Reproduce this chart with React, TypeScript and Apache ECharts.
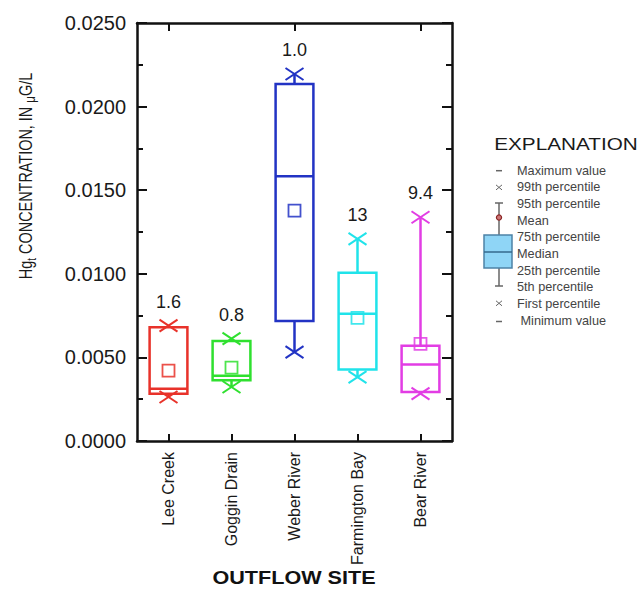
import React, { useEffect, useRef } from "react";
import * as echarts from "echarts";

// ---- data ----
const categories = ["Lee Creek", "Goggin Drain", "Weber River", "Farmington Bay", "Bear River"];
const firstPct = [0.00263, 0.00323, 0.00532, 0.00382, 0.00283];
const q1 = [0.00283, 0.00363, 0.00717, 0.00427, 0.00293];
const median = [0.00313, 0.0039, 0.01583, 0.00761, 0.00458];
const q3 = [0.0068, 0.00598, 0.02135, 0.01006, 0.0057];
const pct99 = [0.0069, 0.00612, 0.02195, 0.01209, 0.01338];
const mean = [0.00421, 0.00439, 0.01378, 0.00736, 0.00581];
const sampleLabels = ["1.6", "0.8", "1.0", "13", "9.4"];
const siteColors = ["#e8322a", "#2fe02f", "#2233c4", "#20e3ea", "#e23de4"];
const legendLabels = [
  "Maximum value",
  "99th percentile",
  "95th percentile",
  "Mean",
  "75th percentile",
  "Median",
  "25th percentile",
  "5th percentile",
  "First percentile",
  " Minimum value",
];

const FONT = "'Liberation Sans', Arial, Helvetica, sans-serif";

export default function App() {
  const ref = useRef<HTMLDivElement>(null);
  useEffect(() => {
    if (!ref.current) return;
    const chart = echarts.init(ref.current, null, { renderer: "svg" });

    const boxData = categories.map((_, i) => [i, firstPct[i], q1[i], median[i], q3[i], pct99[i], mean[i]]);

    const renderItem = (params: any, api: any) => {
      const i = api.value(0);
      const color = siteColors[params.dataIndex];
      const cx = api.coord([i, 0])[0];
      const y = (v: number) => api.coord([i, v])[1];
      const bw = api.size([1, 0])[0] * 0.6;
      const vP1 = api.value(1), vQ1 = api.value(2), vMed = api.value(3), vQ3 = api.value(4), vP99 = api.value(5), vMean = api.value(6);
      const lineStyle = { stroke: color, lineWidth: 2.5, fill: null };
      const children: any[] = [];
      if (vP99 > vQ3) {
        children.push({ type: "line", shape: { x1: cx, y1: y(vQ3), x2: cx, y2: y(vP99) }, style: lineStyle });
      }
      if (vP1 < vQ1) {
        children.push({ type: "line", shape: { x1: cx, y1: y(vQ1), x2: cx, y2: y(vP1) }, style: lineStyle });
      }
      children.push({
        type: "rect",
        shape: { x: cx - bw / 2, y: y(vQ3), width: bw, height: y(vQ1) - y(vQ3) },
        style: { stroke: color, lineWidth: 2.5, fill: "none" },
      });
      children.push({
        type: "line",
        shape: { x1: cx - bw / 2, y1: y(vMed), x2: cx + bw / 2, y2: y(vMed) },
        style: lineStyle,
      });
      const ms = 12;
      children.push({
        type: "rect",
        shape: { x: cx - ms / 2, y: y(vMean) - ms / 2, width: ms, height: ms },
        style: { stroke: color, lineWidth: 1.8, fill: "none", opacity: 0.85 },
      });
      const cross = (v: number) => {
        const yy = y(v);
        children.push({ type: "line", shape: { x1: cx - 9, y1: yy - 6, x2: cx + 9, y2: yy + 6 }, style: { stroke: color, lineWidth: 2 } });
        children.push({ type: "line", shape: { x1: cx - 9, y1: yy + 6, x2: cx + 9, y2: yy - 6 }, style: { stroke: color, lineWidth: 2 } });
      };
      cross(vP1);
      cross(vP99);
      children.push({
        type: "text",
        style: {
          text: sampleLabels[params.dataIndex],
          x: cx,
          y: y(vP99) - 24,
          align: "center",
          verticalAlign: "middle",
          fontSize: 18,
          fontFamily: FONT,
          fill: "#1a1a1a",
        },
      });
      return { type: "group", children };
    };

    // legend (explanation) graphics
    const lx = 499;
    const ly0 = 170.7;
    const dy = 16.7;
    const legendGraphics: any[] = [];
    legendLabels.forEach((t, k) => {
      legendGraphics.push({
        type: "text",
        x: 517,
        y: ly0 + k * dy,
        scaleX: 1.06,
        style: { text: t, fontSize: 12, fontFamily: FONT, fill: "#444", align: "left", verticalAlign: "middle" },
      });
    });
    const g = "#666";
    legendGraphics.push(
      { type: "line", shape: { x1: lx - 3, y1: ly0, x2: lx + 3, y2: ly0 }, style: { stroke: g, lineWidth: 1.5 } },
      { type: "line", shape: { x1: lx - 3, y1: ly0 + dy - 2.5, x2: lx + 3, y2: ly0 + dy + 2.5 }, style: { stroke: g, lineWidth: 1 } },
      { type: "line", shape: { x1: lx - 3, y1: ly0 + dy + 2.5, x2: lx + 3, y2: ly0 + dy - 2.5 }, style: { stroke: g, lineWidth: 1 } },
      { type: "line", shape: { x1: lx, y1: 203, x2: lx, y2: 235 }, style: { stroke: g, lineWidth: 1.5 } },
      { type: "line", shape: { x1: lx - 4, y1: 203, x2: lx + 4, y2: 203 }, style: { stroke: g, lineWidth: 1.5 } },
      { type: "line", shape: { x1: lx, y1: 268, x2: lx, y2: 286 }, style: { stroke: g, lineWidth: 1.5 } },
      { type: "line", shape: { x1: lx - 4, y1: 286, x2: lx + 4, y2: 286 }, style: { stroke: g, lineWidth: 1.5 } },
      { type: "rect", shape: { x: 484, y: 235, width: 28, height: 33 }, style: { fill: "#8fd5f6", stroke: "#4d82a6", lineWidth: 1.5 } },
      { type: "line", shape: { x1: 484, y1: 252, x2: 512, y2: 252 }, style: { stroke: "#35698c", lineWidth: 1.5 } },
      { type: "circle", shape: { cx: lx, cy: 217.5, r: 2.6 }, style: { fill: "#c77", stroke: "#8b2525", lineWidth: 1.2 } },
      { type: "line", shape: { x1: lx - 3, y1: 303.3 - 2.5, x2: lx + 3, y2: 303.3 + 2.5 }, style: { stroke: g, lineWidth: 1 } },
      { type: "line", shape: { x1: lx - 3, y1: 303.3 + 2.5, x2: lx + 3, y2: 303.3 - 2.5 }, style: { stroke: g, lineWidth: 1 } },
      { type: "line", shape: { x1: lx - 3, y1: 321.5, x2: lx + 3, y2: 321.5 }, style: { stroke: g, lineWidth: 1.5 } },
      {
        type: "text",
        x: 566,
        y: 144,
        scaleX: 1.22,
        style: { text: "EXPLANATION", fontSize: 17, fontFamily: FONT, fill: "#1a1a1a", align: "center", verticalAlign: "middle" },
      },
      {
        type: "text",
        x: 294,
        y: 578,
        scaleX: 1.2,
        style: { text: "OUTFLOW SITE", fontSize: 18, fontWeight: "bold", fontFamily: FONT, fill: "#111", align: "center", verticalAlign: "middle" },
      },
      {
        type: "text",
        x: 26,
        y: 176,
        rotation: Math.PI / 2,
        scaleX: 0.76,
        style: {
          text: "{a|Hg}{s|t}{a| CONCENTRATION, IN }{m|μ}{a|G/L}",
          align: "center",
          verticalAlign: "middle",
          fontFamily: FONT,
          fill: "#1a1a1a",
          rich: {
            a: { fontSize: 19, fontFamily: FONT, fill: "#1a1a1a", lineHeight: 23 },
            s: { fontSize: 13, fontFamily: FONT, fill: "#1a1a1a", lineHeight: 13, verticalAlign: "bottom" },
            m: { fontSize: 15, fontFamily: FONT, fill: "#1a1a1a", lineHeight: 17, verticalAlign: "bottom" },
          },
        },
      }
    );

    const axisLine = { show: true, onZero: false, lineStyle: { color: "#111", width: 2.5 } };
    const option: any = {
      animation: false,
      backgroundColor: "#fff",
      grid: { left: 137, top: 23, width: 315, height: 418, containLabel: false },
      xAxis: [
        {
          type: "category",
          data: categories,
          position: "bottom",
          axisLine,
          axisTick: { show: true, inside: true, alignWithLabel: true, length: 7, lineStyle: { color: "#111", width: 2 } },
          axisLabel: {
            rotate: 90,
            margin: 11,
            fontSize: 16,
            fontFamily: FONT,
            color: "#1a1a1a",
          },
          splitLine: { show: false },
        },
        {
          type: "category",
          data: categories,
          position: "top",
          axisLine,
          axisTick: { show: true, inside: true, alignWithLabel: true, length: 8, lineStyle: { color: "#111", width: 2 } },
          axisLabel: { show: false },
          splitLine: { show: false },
        },
      ],
      yAxis: [
        {
          type: "value",
          min: 0,
          max: 0.025,
          interval: 0.005,
          position: "left",
          axisLine,
          axisTick: { show: true, inside: true, length: 10, lineStyle: { color: "#111", width: 2 } },
          minorTick: { show: true, splitNumber: 2, length: 6, lineStyle: { color: "#111", width: 2 } },
          axisLabel: {
            margin: 11,
            fontSize: 20,
            fontFamily: FONT,
            color: "#1a1a1a",
            formatter: (v: number) => v.toFixed(4),
          },
          splitLine: { show: false },
        },
        {
          type: "value",
          min: 0,
          max: 0.025,
          interval: 0.005,
          position: "right",
          axisLine,
          axisTick: { show: true, inside: true, length: 10, lineStyle: { color: "#111", width: 2 } },
          minorTick: { show: true, splitNumber: 2, length: 6, lineStyle: { color: "#111", width: 2 } },
          axisLabel: { show: false },
          splitLine: { show: false },
        },
      ],
      series: [
        {
          type: "custom",
          xAxisIndex: 0,
          yAxisIndex: 0,
          renderItem,
          encode: { x: 0, y: [1, 2, 3, 4, 5, 6] },
          data: boxData,
          clip: false,
          z: 3,
        },
      ],
      graphic: legendGraphics,
    };
    chart.setOption(option);
    return () => chart.dispose();
  }, []);

  return (
    <div
      ref={ref}
      style={{ position: "fixed", left: 0, top: 0, width: 642, height: 597, background: "#fff" }}
    />
  );
}
